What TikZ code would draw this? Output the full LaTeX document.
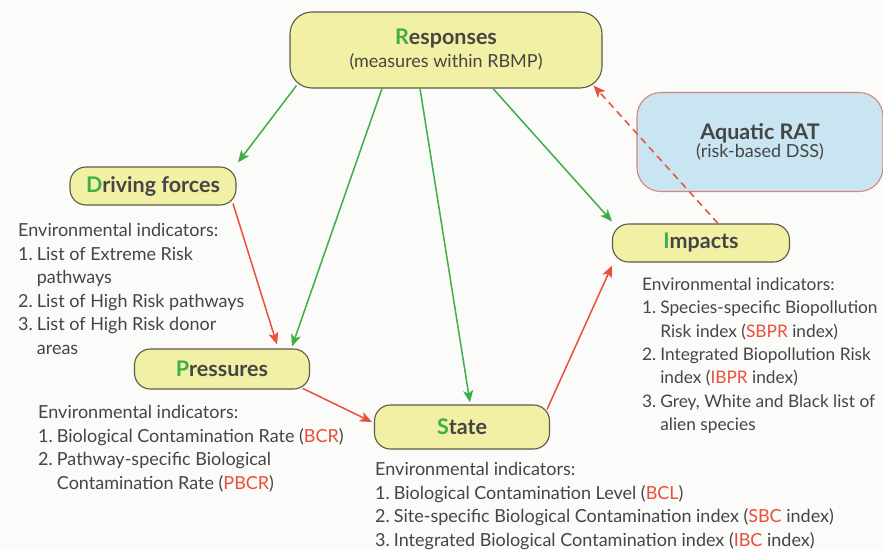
\documentclass[tikz,border=0pt]{standalone}
\usepackage{fontspec}
\setmainfont{Lato}
\usetikzlibrary{arrows.meta}
\definecolor{boxfill}{HTML}{F2F0A4}
\definecolor{boxline}{HTML}{5A5A4A}
\definecolor{ratfill}{HTML}{C9E5F1}
\definecolor{ratline}{HTML}{D9837A}
\definecolor{grn}{HTML}{3DAF48}
\definecolor{rd}{HTML}{E9503C}
\definecolor{txt}{HTML}{454545}
\definecolor{bg}{HTML}{FBFBF9}
\newcommand{\G}[1]{\textcolor{grn}{#1}}
\newcommand{\Rd}[1]{\textcolor{rd}{#1}}
\tikzset{
  dpbox/.style={draw=boxline, line width=1.1pt, fill=boxfill, rounded corners=16pt,
    text=txt, font=\fontsize{21.5}{24}\selectfont\bfseries, inner sep=0pt},
  ind/.style={anchor=north west, inner sep=0pt, text=txt, align=left,
    font=\fontsize{18}{23.5}\selectfont},
  garrow/.style={draw=grn, line width=1.5pt, -{Stealth[length=12pt,width=10pt,inset=3pt]}},
  rarrow/.style={draw=rd, line width=1.5pt, -{Stealth[length=12pt,width=10pt,inset=3pt]}},
}
\begin{document}
\begin{tikzpicture}[x=1pt,y=-1pt]
\fill[bg] (0,0) rectangle (883,549);
\useasboundingbox (0,0) rectangle (883,549);

\node[dpbox, rounded corners=22pt, minimum width=312pt, minimum height=76pt, align=center] (resp) at (446,50)
  {\G{R}esponses\\[-1pt]{\mdseries\fontsize{18}{20}\selectfont (measures within RBMP)}};
\node[draw=ratline, line width=1.1pt, fill=ratfill, rounded corners=24pt, minimum width=246pt, minimum height=99pt,
  text=txt, align=center, inner sep=0pt] (rat) at (760,142)
  {{\fontsize{21.5}{24}\selectfont\bfseries Aquatic RAT}\\[-1pt]{\fontsize{18}{20}\selectfont (risk-based DSS)}};
\node[dpbox, minimum width=166pt, minimum height=38pt] (drv) at (153,186) {\G{D}riving forces};
\node[dpbox, minimum width=175pt, minimum height=40pt] (prs) at (222,369) {\G{P}ressures};
\node[dpbox, minimum width=175pt, minimum height=44pt] (sta) at (462,427) {\G{S}tate};
\node[dpbox, minimum width=177pt, minimum height=38pt] (imp) at (701,243) {\G{I}mpacts};

\node[ind] (drvtxt) at (18,220) {%
\begin{tabular}{@{}l@{\hspace{4pt}}l@{}}
\multicolumn{2}{@{}l@{}}{Environmental indicators:}\\
1. & List of Extreme Risk\\
   & pathways\\
2. & List of High Risk pathways\\
3. & List of High Risk donor\\
   & areas
\end{tabular}};

\node[ind] (prstxt) at (38,402) {%
\begin{tabular}{@{}l@{\hspace{4pt}}l@{}}
\multicolumn{2}{@{}l@{}}{Environmental indicators:}\\
1. & Biological Contamination Rate (\Rd{BCR})\\
2. & Pathway-specific Biological\\
   & Contamination Rate (\Rd{PBCR})
\end{tabular}};

\node[ind] (statxt) at (375,459) {%
\begin{tabular}{@{}l@{\hspace{4pt}}l@{}}
\multicolumn{2}{@{}l@{}}{Environmental indicators:}\\
1. & Biological Contamination Level (\Rd{BCL})\\
2. & Site-specific Biological Contamination index (\Rd{SBC} index)\\
3. & Integrated Biological Contamination index (\Rd{IBC} index)
\end{tabular}};

\node[ind, font=\fontsize{17.3}{23.3}\selectfont] (imptxt) at (642,274) {%
\begin{tabular}{@{}l@{\hspace{4pt}}l@{}}
\multicolumn{2}{@{}l@{}}{Environmental indicators:}\\
1. & Species-specific Biopollution\\
   & Risk index (\Rd{SBPR} index)\\
2. & Integrated Biopollution Risk\\
   & index (\Rd{IBPR} index)\\
3. & Grey, White and Black list of\\
   & alien species
\end{tabular}};

% green arrows from Responses
\draw[garrow] ([xshift=7pt,yshift=3pt]resp.south west) -- ([xshift=85pt,yshift=4pt]drv.north);
\draw[garrow] ([xshift=-64pt]resp.south) -- ([xshift=70pt,yshift=2pt]prs.north);
\draw[garrow] ([xshift=-26pt]resp.south) -- ([xshift=8pt,yshift=2pt]sta.north);
\draw[garrow] ([xshift=47pt]resp.south) -- ([xshift=-89pt,yshift=2pt]imp.north);
% red arrows
\draw[rarrow] ([xshift=80pt,yshift=2pt]drv.south) -- ([xshift=55pt,yshift=4pt]prs.north);
\draw[rarrow] ([xshift=81pt,yshift=1pt]prs.south) -- ([xshift=-2pt,yshift=5pt]sta.west);
\draw[rarrow] ([xshift=85pt,yshift=-5pt]sta.north) -- ([xshift=-89pt,yshift=-3pt]imp.south);
\draw[rarrow, dashed, dash pattern=on 7pt off 5pt] ([xshift=17pt]imp.north) -- ([xshift=-9pt,yshift=3pt]resp.south east);
\end{tikzpicture}
\end{document}
